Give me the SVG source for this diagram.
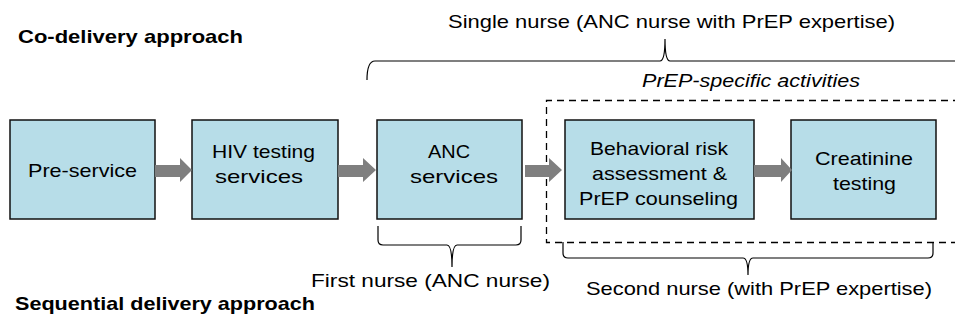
<svg xmlns="http://www.w3.org/2000/svg" width="955" height="324" viewBox="0 0 955 324">
<style>
text{font-family:"Liberation Sans",Arial,sans-serif;fill:#000}
.lbl{font-size:19px}
.head{font-size:18.5px;font-weight:bold}
.it{font-style:italic}
.box{fill:#B7DDE8;stroke:#111;stroke-width:1.5}
.arr{fill:#7F7F7F}
.brace{fill:none;stroke:#000;stroke-width:1.2}
.dash{fill:none;stroke:#000;stroke-width:1.3;stroke-dasharray:7,5}
</style>
<rect width="955" height="324" fill="#fff"/>
<text class="head" x="18" y="43" textLength="225" lengthAdjust="spacingAndGlyphs">Co-delivery approach</text>
<text class="head" x="15" y="310" textLength="300" lengthAdjust="spacingAndGlyphs">Sequential delivery approach</text>
<g id="dashed-region">
<path class="dash" d="M960,100.5 L546.5,100.5 L546.5,242.5 L960,242.5"/>
<text class="lbl it" x="642" y="87" textLength="218" lengthAdjust="spacingAndGlyphs">PrEP-specific activities</text>
</g>
<g id="n1"><rect class="box" x="10" y="120" width="145" height="99"/>
<text class="lbl" x="28" y="177" textLength="109" lengthAdjust="spacingAndGlyphs">Pre-service</text></g>
<g id="n2"><rect class="box" x="192" y="120" width="146" height="99"/>
<text class="lbl" x="212" y="158" textLength="103" lengthAdjust="spacingAndGlyphs">HIV testing</text>
<text class="lbl" x="215" y="183" textLength="88" lengthAdjust="spacingAndGlyphs">services</text></g>
<g id="n3"><rect class="box" x="377" y="120" width="145" height="99"/>
<text class="lbl" x="428" y="158" textLength="42" lengthAdjust="spacingAndGlyphs">ANC</text>
<text class="lbl" x="410" y="183" textLength="88" lengthAdjust="spacingAndGlyphs">services</text></g>
<g id="n4"><rect class="box" x="565" y="120" width="189" height="99"/>
<text class="lbl" x="590" y="155" textLength="138" lengthAdjust="spacingAndGlyphs">Behavioral risk</text>
<text class="lbl" x="592" y="180" textLength="135" lengthAdjust="spacingAndGlyphs">assessment &amp;</text>
<text class="lbl" x="579" y="205" textLength="159" lengthAdjust="spacingAndGlyphs">PrEP counseling</text></g>
<g id="n5"><rect class="box" x="791" y="120" width="145" height="99"/>
<text class="lbl" x="815" y="165" textLength="98" lengthAdjust="spacingAndGlyphs">Creatinine</text>
<text class="lbl" x="833" y="190" textLength="63" lengthAdjust="spacingAndGlyphs">testing</text></g>
<g id="connectors">
<polygon class="arr" points="155,165 180,165 180,158 192,170 180,182 180,177 155,177"/>
<polygon class="arr" points="338,165 363,165 363,158 376,170 363,182 363,177 338,177"/>
<polygon class="arr" points="525,165 549,165 549,158 562,170 549,182 549,177 525,177"/>
<polygon class="arr" points="754,165 781,165 781,158 792,170 781,182 781,177 754,177"/>
</g>
<g id="brace-single">
<path class="brace" d="M367,80 Q367,61 375,61 L660,61 Q665,61 665,39 Q665,61 670,61 L960,61"/>
<text class="lbl" x="448" y="28" textLength="447" lengthAdjust="spacingAndGlyphs">Single nurse (ANC nurse with PrEP expertise)</text>
</g>
<g id="brace-first">
<path class="brace" d="M378,226 L378,240 Q378,245 383,245 L447,245 Q452,245 452,267 Q452,245 457,245 L516,245 Q521,245 521,240 L521,226"/>
<text class="lbl" x="311" y="287" textLength="239" lengthAdjust="spacingAndGlyphs">First nurse (ANC nurse)</text>
</g>
<g id="brace-second">
<path class="brace" d="M563,242 L563,253 Q563,258 568,258 L743,258 Q748,258 748,275 Q748,258 753,258 L928,258 Q933,258 933,253 L933,242"/>
<text class="lbl" x="586" y="295" textLength="346" lengthAdjust="spacingAndGlyphs">Second nurse (with PrEP expertise)</text>
</g>
</svg>
